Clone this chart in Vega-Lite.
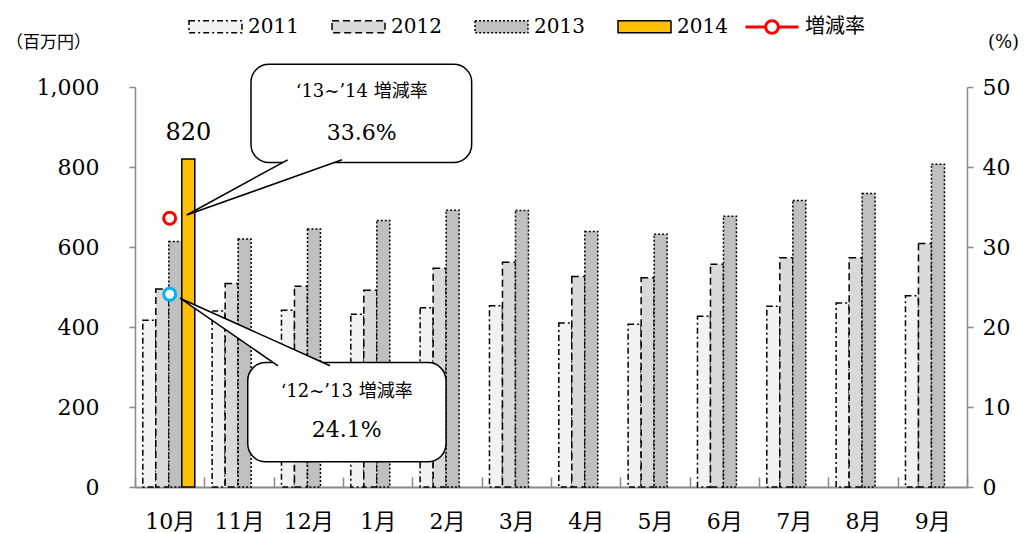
{
  "$schema": "https://vega.github.io/schema/vega-lite/v6.json",
  "width": 832,
  "height": 400,
  "autosize": {"type": "none"},
  "padding": {"left": 135, "top": 87, "right": 59, "bottom": 46},
  "background": "white",
  "config": {
    "view": {"stroke": null},
    "font": "DejaVu Serif, Noto Sans CJK JP",
    "axis": {
      "grid": false,
      "domainColor": "#898989",
      "domainWidth": 1.5,
      "tickColor": "#898989",
      "tickWidth": 1.5,
      "labelFont": "DejaVu Serif, Noto Sans CJK JP",
      "labelFontSize": 22,
      "labelColor": "black",
      "titleFont": "DejaVu Serif, Noto Sans CJK JP",
      "titleFontWeight": "normal",
      "titleColor": "black"
    }
  },
  "datasets": {
    "bars": [
      {"month": "10月", "year": "2011", "value": 417},
      {"month": "10月", "year": "2012", "value": 495},
      {"month": "10月", "year": "2013", "value": 614},
      {"month": "10月", "year": "2014", "value": 820},
      {"month": "11月", "year": "2011", "value": 440},
      {"month": "11月", "year": "2012", "value": 509},
      {"month": "11月", "year": "2013", "value": 620},
      {"month": "12月", "year": "2011", "value": 442},
      {"month": "12月", "year": "2012", "value": 502},
      {"month": "12月", "year": "2013", "value": 645},
      {"month": "1月", "year": "2011", "value": 432},
      {"month": "1月", "year": "2012", "value": 492},
      {"month": "1月", "year": "2013", "value": 666},
      {"month": "2月", "year": "2011", "value": 448},
      {"month": "2月", "year": "2012", "value": 547},
      {"month": "2月", "year": "2013", "value": 692},
      {"month": "3月", "year": "2011", "value": 453},
      {"month": "3月", "year": "2012", "value": 562},
      {"month": "3月", "year": "2013", "value": 691},
      {"month": "4月", "year": "2011", "value": 410},
      {"month": "4月", "year": "2012", "value": 526},
      {"month": "4月", "year": "2013", "value": 639},
      {"month": "5月", "year": "2011", "value": 407},
      {"month": "5月", "year": "2012", "value": 523},
      {"month": "5月", "year": "2013", "value": 632},
      {"month": "6月", "year": "2011", "value": 427},
      {"month": "6月", "year": "2012", "value": 557},
      {"month": "6月", "year": "2013", "value": 677},
      {"month": "7月", "year": "2011", "value": 452},
      {"month": "7月", "year": "2012", "value": 573},
      {"month": "7月", "year": "2013", "value": 716},
      {"month": "8月", "year": "2011", "value": 460},
      {"month": "8月", "year": "2012", "value": 573},
      {"month": "8月", "year": "2013", "value": 734},
      {"month": "9月", "year": "2011", "value": 478},
      {"month": "9月", "year": "2012", "value": 609},
      {"month": "9月", "year": "2013", "value": 807}
    ],
    "rates": [
      {"month": "10月", "kind": "増減率", "rate": 33.6},
      {"month": "10月", "kind": "‘12~’13", "rate": 24.1}
    ],
    "boxes": [
      {"id": "u", "x1": 1.673, "x2": 4.856, "y1": 1057, "y2": 811},
      {"id": "l", "x1": 1.626, "x2": 4.486, "y1": 311, "y2": 63}
    ],
    "tails": [
      {"id": "u", "i": 0, "x": 2.202, "y": 818},
      {"id": "u", "i": 1, "x": 0.746, "y": 680},
      {"id": "u", "i": 2, "x": 2.986, "y": 818},
      {"id": "l", "i": 0, "x": 2.063, "y": 303},
      {"id": "l", "i": 1, "x": 0.649, "y": 472},
      {"id": "l", "i": 2, "x": 2.813, "y": 303}
    ],
    "notes": [
      {"line": 1, "x": 3.27, "y": 988, "text": "‘13~’14 増減率"},
      {"line": 2, "x": 3.27, "y": 885, "text": "33.6%"},
      {"line": 1, "x": 3.053, "y": 238, "text": "‘12~’13 増減率"},
      {"line": 2, "x": 3.053, "y": 142, "text": "24.1%"}
    ]
  },
  "layer": [
    {
      "data": {"name": "bars"},
      "layer": [
        {
          "mark": {"type": "bar", "stroke": "black", "strokeWidth": 1.5},
          "encoding": {
            "x": {
              "field": "month", "type": "nominal", "sort": null,
              "scale": {"domain": ["10月","11月","12月","1月","2月","3月","4月","5月","6月","7月","8月","9月"], "paddingInner": 0, "paddingOuter": 0},
              "axis": {"title": null, "labelAngle": 0, "tickBand": "extent", "tickSize": -10, "labelPadding": 34, "domainWidth": 2}
            },
            "xOffset": {
              "field": "year", "type": "nominal",
              "scale": {"domain": ["2011","2012","2013","2014"], "paddingInner": 0, "paddingOuter": 0.667, "align": 0.45}
            },
            "y": {
              "field": "value", "type": "quantitative",
              "scale": {"domain": [0, 1000], "nice": false},
              "axis": {"values": [0,200,400,600,800,1000], "format": ",.0f", "tickSize": 6, "labelPadding": 30, "title": "（百万円）", "titleAngle": 0, "titleX": -87, "titleY": -45, "titleAlign": "center", "titleBaseline": "middle", "titleFontSize": 17, "titleFont": "Noto Sans CJK JP"}
            },
            "fill": {
              "field": "year", "type": "nominal",
              "scale": {"domain": ["2011","2012","2013","2014"], "range": ["#F2F2F2","#D9D9D9","#BFBFBF","#FFC000"]},
              "legend": {"title": null, "orient": "none", "legendX": 53, "legendY": -88, "direction": "horizontal", "symbolType": "M-1,-0.23H1V0.23H-1Z", "symbolSize": 2809, "symbolStrokeColor": "black", "symbolStrokeWidth": 1.5, "labelFont": "DejaVu Serif", "labelFontSize": 20, "labelColor": "black", "labelOffset": 5, "columnPadding": 30, "padding": 0,
                "encode": {"symbols": {"update": {"stroke": {"value": "black"}, "strokeWidth": {"value": 1.5}}}}}
            },
            "strokeDash": {
              "field": "year", "type": "nominal",
              "scale": {"domain": ["2011","2012","2013","2014"], "range": [[6,3,2,3],[7,4],[2,2],[1,0]]},
              "legend": {"title": null, "orient": "none", "legendX": 53, "legendY": -88, "direction": "horizontal", "symbolType": "M-1,-0.23H1V0.23H-1Z", "symbolSize": 2809, "symbolStrokeColor": "black", "symbolStrokeWidth": 1.5, "labelFont": "DejaVu Serif", "labelFontSize": 20, "labelColor": "black", "labelOffset": 5, "columnPadding": 30, "padding": 0,
                "encode": {"symbols": {"update": {"stroke": {"value": "black"}, "strokeWidth": {"value": 1.5}}}}}
            }
          }
        },
        {
          "transform": [{"filter": "datum.year == '2014'"}],
          "mark": {"type": "text", "fontSize": 24, "font": "DejaVu Serif", "baseline": "alphabetic", "dy": -19, "color": "black"},
          "encoding": {
            "x": {"field": "month", "type": "nominal", "sort": null},
            "xOffset": {"field": "year", "type": "nominal"},
            "y": {"field": "value", "type": "quantitative"},
            "text": {"field": "value", "type": "quantitative"}
          }
        }
      ]
    },
    {
      "data": {"name": "rates"},
      "mark": {"type": "point", "shape": "circle", "size": 144, "strokeWidth": 3, "filled": false, "fill": "white", "fillOpacity": 1, "opacity": 1},
      "encoding": {
        "x": {
          "field": "month", "type": "nominal",
          "scale": {"domain": ["10月","11月","12月","1月","2月","3月","4月","5月","6月","7月","8月","9月"], "paddingInner": 0, "paddingOuter": 0},
          "axis": null
        },
        "y": {
          "field": "rate", "type": "quantitative",
          "scale": {"domain": [0, 50], "nice": false},
          "axis": {"orient": "right", "values": [0,10,20,30,40,50], "tickSize": 6, "labelPadding": 9, "title": "(%)", "titleAngle": 0, "titleX": 36, "titleY": -45, "titleAlign": "center", "titleBaseline": "middle", "titleFontSize": 18}
        },
        "stroke": {
          "field": "kind", "type": "nominal",
          "scale": {"domain": ["増減率", "‘12~’13"], "range": ["#FF0000", "#00B0F0"]},
          "legend": {"values": ["増減率"], "title": null, "orient": "none", "legendX": 609, "legendY": -88, "symbolType": "M-1,0H-0.24M0.24,0H1M0.24,0A0.24,0.24,0,1,1,-0.24,0A0.24,0.24,0,1,1,0.24,0Z", "symbolSize": 2809, "symbolStrokeWidth": 3, "symbolFillColor": "white", "labelFont": "DejaVu Serif, Noto Sans CJK JP", "labelFontSize": 20, "labelColor": "black", "labelOffset": 5, "padding": 0}
        }
      }
    },
    {
      "layer": [
        {
          "data": {"name": "boxes"},
          "mark": {"type": "rect", "fill": "white", "stroke": "black", "strokeWidth": 1.5, "cornerRadius": 18},
          "encoding": {
            "x": {"field": "x1", "type": "quantitative", "scale": {"domain": [0, 12], "nice": false, "zero": false}, "axis": null},
            "x2": {"field": "x2"},
            "y": {"field": "y1", "type": "quantitative", "scale": {"domain": [0, 1000], "nice": false, "zero": false}, "axis": null},
            "y2": {"field": "y2"}
          }
        },
        {
          "data": {"name": "tails"},
          "mark": {"type": "line", "fill": "white", "stroke": "black", "strokeWidth": 1.5, "strokeJoin": "miter"},
          "encoding": {
            "x": {"field": "x", "type": "quantitative"},
            "y": {"field": "y", "type": "quantitative"},
            "detail": {"field": "id", "type": "nominal"},
            "order": {"field": "i", "type": "quantitative"}
          }
        },
        {
          "data": {"name": "notes"},
          "transform": [{"filter": "datum.line == 1"}],
          "mark": {"type": "text", "fontSize": 18, "font": "DejaVu Serif, Noto Sans CJK JP", "color": "black", "baseline": "middle", "align": "center"},
          "encoding": {
            "x": {"field": "x", "type": "quantitative"},
            "y": {"field": "y", "type": "quantitative"},
            "text": {"field": "text", "type": "nominal"}
          }
        },
        {
          "data": {"name": "notes"},
          "transform": [{"filter": "datum.line == 2"}],
          "mark": {"type": "text", "fontSize": 22, "font": "DejaVu Serif", "color": "black", "baseline": "middle", "align": "center"},
          "encoding": {
            "x": {"field": "x", "type": "quantitative"},
            "y": {"field": "y", "type": "quantitative"},
            "text": {"field": "text", "type": "nominal"}
          }
        }
      ]
    }
  ],
  "resolve": {"scale": {"x": "independent", "y": "independent"}}
}
